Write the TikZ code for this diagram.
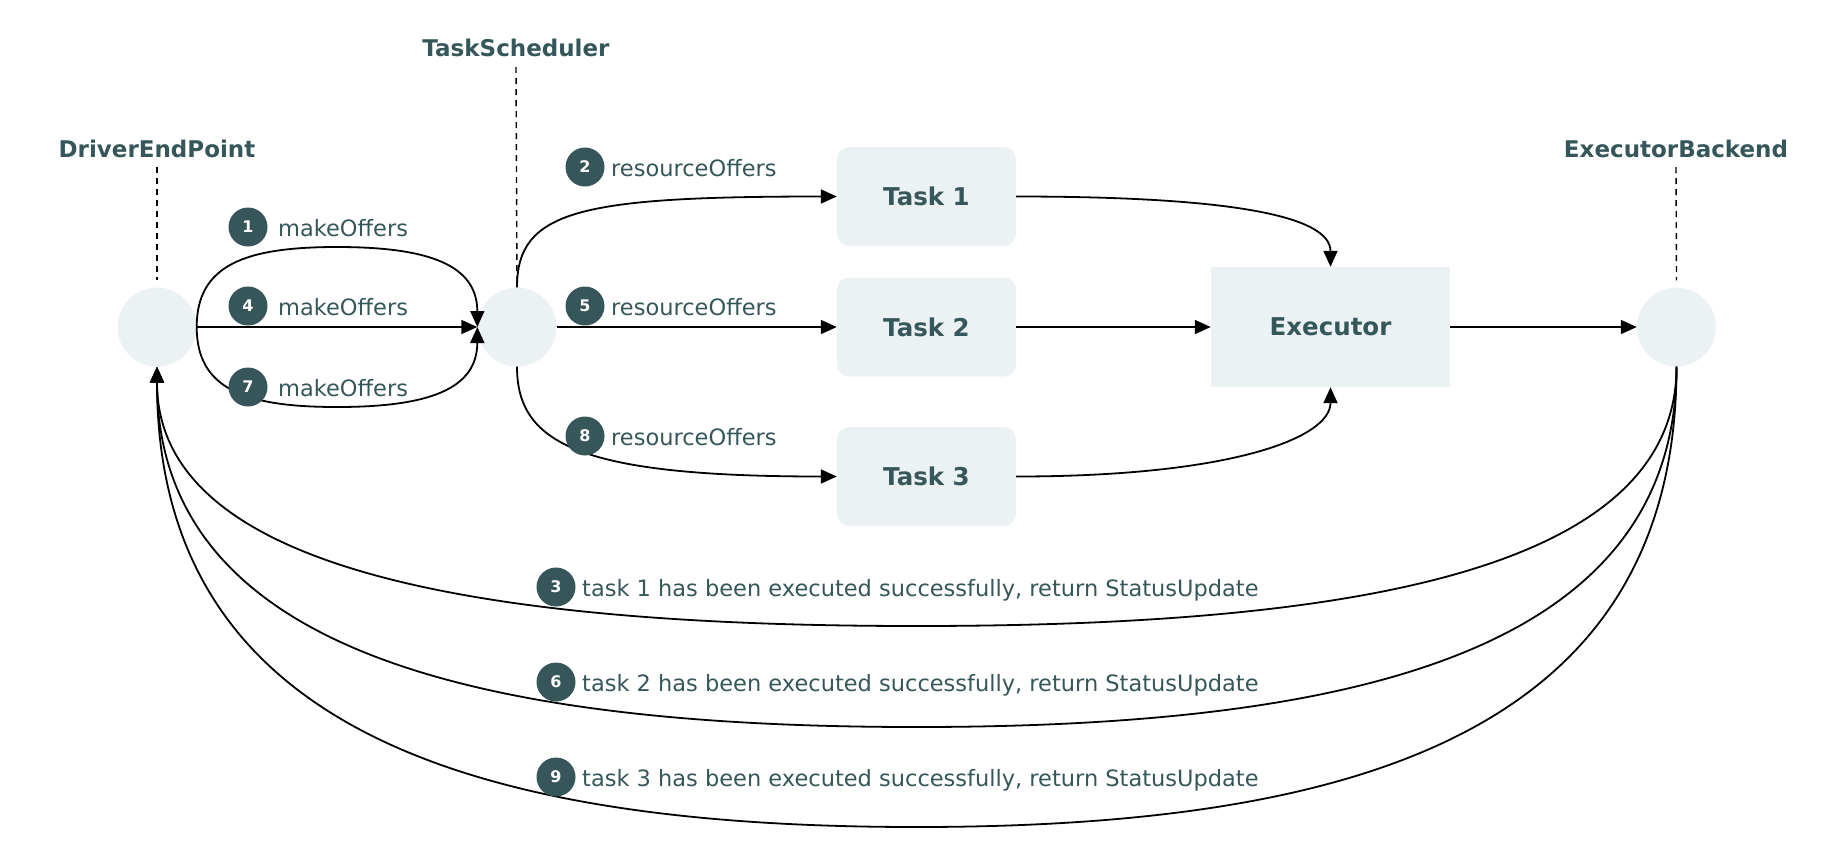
\documentclass[tikz,border=0pt]{standalone}
\usepackage{fontspec}
\setmainfont{DejaVu Sans}
\usetikzlibrary{arrows.meta,calc}
\definecolor{txt}{HTML}{35575A}
\definecolor{badgec}{HTML}{365659}
\definecolor{boxfill}{HTML}{ECF1F4}
\begin{document}
\begin{tikzpicture}[x=1pt,y=-1pt,
  endpt/.style={circle,fill=boxfill,minimum size=79pt,inner sep=0pt},
  taskbox/.style={rectangle,rounded corners=12pt,fill=boxfill,minimum width=179pt,minimum height=99pt,inner sep=0pt,text=txt,font=\bfseries\fontsize{24.5}{29}\selectfont},
  execbox/.style={rectangle,fill=boxfill,minimum width=239pt,minimum height=120pt,inner sep=0pt,text=txt,font=\bfseries\fontsize{24.5}{29}\selectfont},
  title/.style={anchor=base,inner sep=0pt,text=txt,font=\bfseries\fontsize{23}{28}\selectfont},
  badge/.style={circle,fill=badgec,minimum size=39pt,inner sep=0pt,text=white,font=\bfseries\fontsize{16}{19}\selectfont},
  lbl/.style={anchor=base west,inner sep=0pt,text=txt,font=\fontsize{22.5}{27}\selectfont},
  conn/.style={line width=1.8pt,-{Triangle[length=16pt,width=14pt]}},
  dashline/.style={line width=1.4pt,dash pattern=on 6pt off 5pt}]
\useasboundingbox (0,0) rectangle (1843,863);
% end points
\node[endpt] (D) at (157,327) {};
\node[endpt] (S) at (517,327) {};
\node[endpt] (B) at (1676.5,327) {};
% tasks and executor
\node[taskbox] (T1) at (926.5,196.5) {Task 1};
\node[taskbox] (T2) at (926.5,327) {Task 2};
\node[taskbox] (T3) at (926.5,476.5) {Task 3};
\node[execbox] (X) at (1330.5,327) {Executor};
% titles
\node[title] (lD) at (157,157) {DriverEndPoint};
\node[title] (lS) at (516,56) {TaskScheduler};
\node[title] (lB) at (1676,157) {ExecutorBackend};
\draw[dashline] ([yshift=-10pt]lD.base) -- ([yshift=7pt]D.north);
\draw[dashline] ([yshift=-11pt]lS.base) -- ([yshift=2pt]S.north);
\draw[dashline] ([yshift=-10pt]lB.base) -- ([yshift=7pt]B.north);
% makeOffers
\coordinate (top1) at (337,247);
\coordinate (bot7) at (337,407);
\draw[conn] (D.east) .. controls +(0,-62) and +(-92,0) .. (top1) .. controls +(92,0) and +(0,-62) .. (S.west);
\draw[conn] (D) -- (S);
\draw[conn] (D.east) .. controls +(0,62) and +(-92,0) .. (bot7) .. controls +(92,0) and +(0,62) .. (S.west);
% resourceOffers
\draw[conn] (S.north) .. controls +(0,-77) and +(-257,0) .. (T1.west);
\draw[conn] (S) -- (T2);
\draw[conn] (S.south) .. controls +(0,77) and +(-257,0) .. (T3.west);
% tasks to executor
\draw[conn] (T1.east) .. controls +(214,0) and +(0,-51) .. (X.north);
\draw[conn] (T2) -- (X);
\draw[conn] (T3.east) .. controls +(214,0) and +(0,51) .. (X.south);
\draw[conn] (X) -- (B);
% status updates
\coordinate (r3) at (916.5,626);
\coordinate (r6) at (916.5,727);
\coordinate (r9) at (916.5,827);
\draw[conn] (B.south) .. controls +(0,200) and +(450,0) .. (r3) .. controls +(-450,0) and +(0,200) .. (D.south);
\draw[conn] (B.south) .. controls +(0,280) and +(450,0) .. (r6) .. controls +(-450,0) and +(0,280) .. (D.south);
\draw[conn] (B.south) .. controls +(0,360) and +(450,0) .. (r9) .. controls +(-450,0) and +(0,360) .. (D.south);
% badges and labels
\node[badge] (b1) at (248,227) {1};
\node[badge] (b4) at (248,306) {4};
\node[badge] (b7) at (248,387) {7};
\node[lbl] (m1) at (278,236) {makeOffers};
\node[lbl] (m4) at (278,315) {makeOffers};
\node[lbl] (m7) at (278,396) {makeOffers};
\node[badge] (b2) at (585,167) {2};
\node[badge] (b5) at (585,306) {5};
\node[badge] (b8) at (585,436) {8};
\node[lbl] (m2) at (611,176) {resourceOffers};
\node[lbl] (m5) at (611,315) {resourceOffers};
\node[lbl] (m8) at (611,445) {resourceOffers};
\node[badge] (b3) at (556,587) {3};
\node[badge] (b6) at (556,682) {6};
\node[badge] (b9) at (556,777) {9};
\node[lbl] (m3) at (582,596) {task 1 has been executed successfully, return StatusUpdate};
\node[lbl] (m6) at (582,691) {task 2 has been executed successfully, return StatusUpdate};
\node[lbl] (m9) at (582,786) {task 3 has been executed successfully, return StatusUpdate};
\end{tikzpicture}
\end{document}
